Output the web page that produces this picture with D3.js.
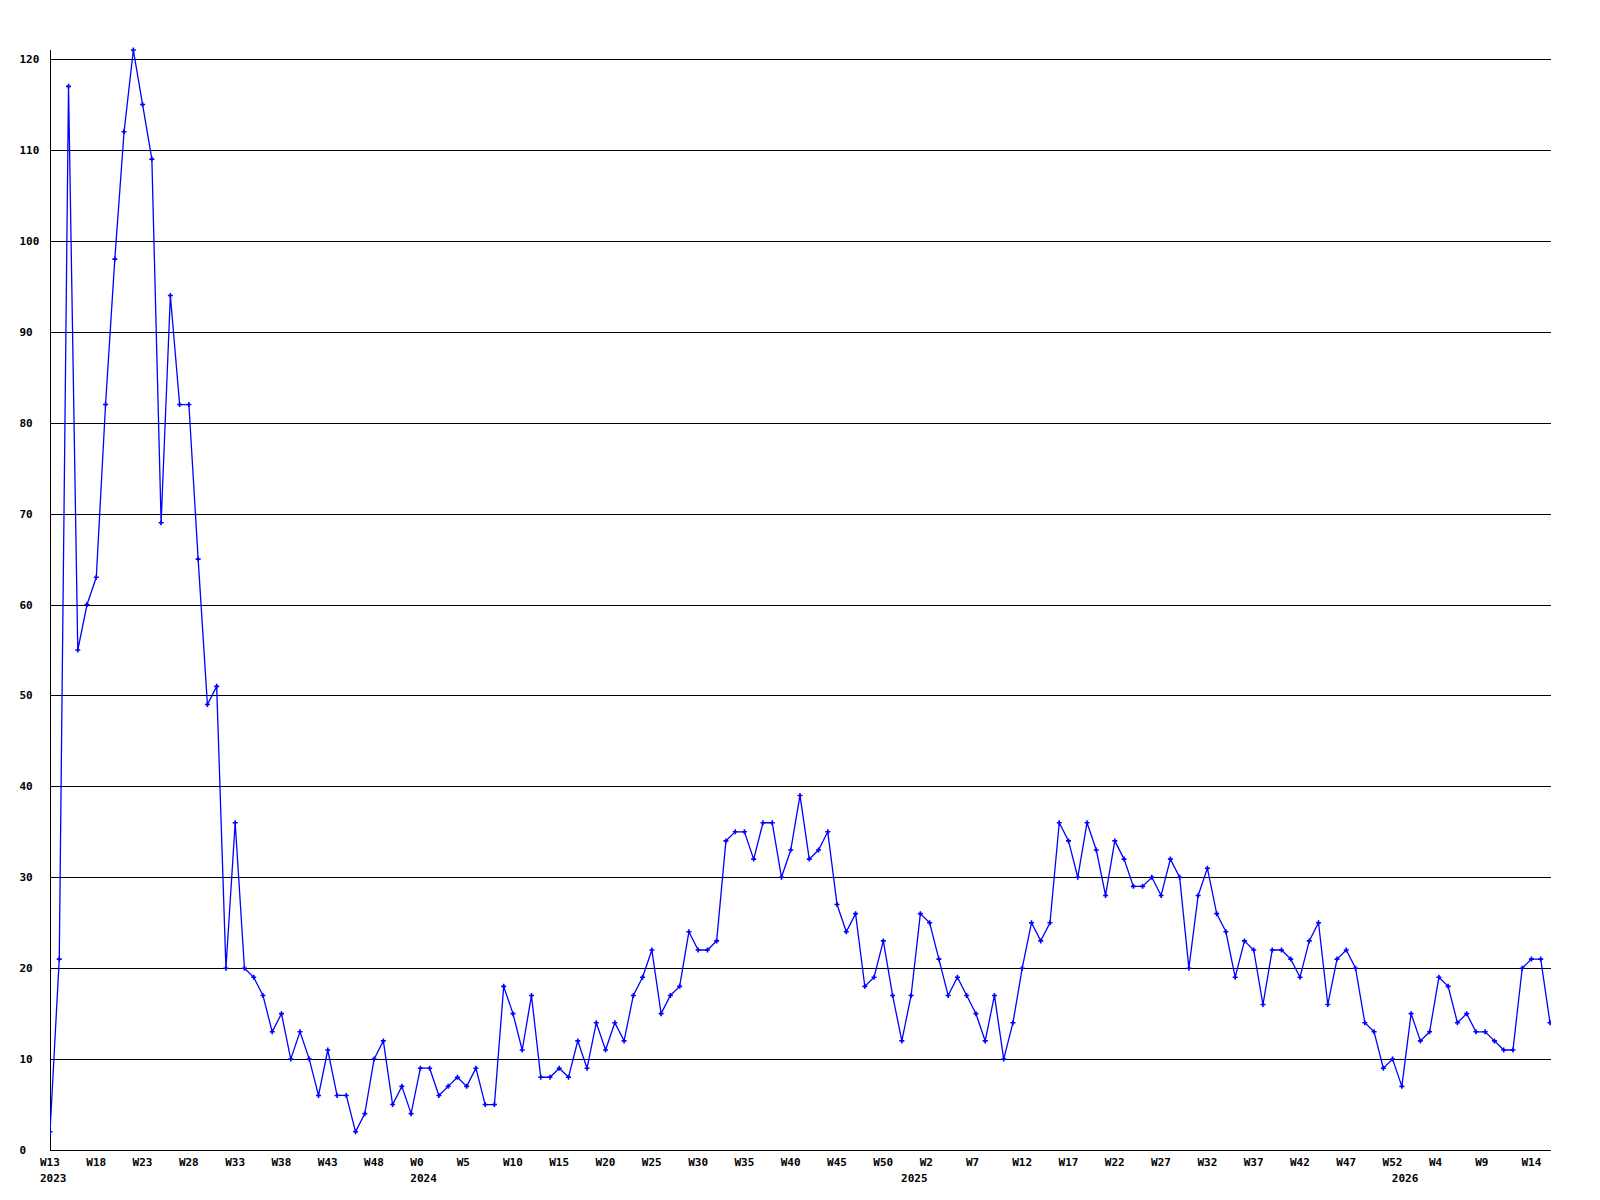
<!DOCTYPE html>
<html>
<head>
<meta charset="utf-8">
<script src="https://cdn.jsdelivr.net/npm/d3@7/dist/d3.min.js"></script>
<style>
  html, body { margin: 0; padding: 0; background: #ffffff; }
  svg { display: block; }
  text { font-family: "DejaVu Sans Mono", "Liberation Mono", monospace; font-weight: bold; font-size: 11px; fill: #000; }
</style>
</head>
<body>
<svg id="chart" width="1600" height="1200"></svg>
<script>
// Weekly counts, starting at W13 2023 (one value per week)
const values = [
  2, 21, 117, 55, 60, 63, 82, 98, 112, 121,
  115, 109, 69, 94, 82, 82, 65, 49, 51, 20,
  36, 20, 19, 17, 13, 15, 10, 13, 10, 6,
  11, 6, 6, 2, 4, 10, 12, 5, 7, 4,
  9, 9, 6, 7, 8, 7, 9, 5, 5, 18,
  15, 11, 17, 8, 8, 9, 8, 12, 9, 14,
  11, 14, 12, 17, 19, 22, 15, 17, 18, 24,
  22, 22, 23, 34, 35, 35, 32, 36, 36, 30,
  33, 39, 32, 33, 35, 27, 24, 26, 18, 19,
  23, 17, 12, 17, 26, 25, 21, 17, 19, 17,
  15, 12, 17, 10, 14, 20, 25, 23, 25, 36,
  34, 30, 36, 33, 28, 34, 32, 29, 29, 30,
  28, 32, 30, 20, 28, 31, 26, 24, 19, 23,
  22, 16, 22, 22, 21, 19, 23, 25, 16, 21,
  22, 20, 14, 13, 9, 10, 7, 15, 12, 13,
  19, 18, 14, 15, 13, 13, 12, 11, 11, 20,
  21, 21, 14
];

// Week tick labels, one every 5 weeks starting at the first week
const weekTicks = [
  "W13", "W18", "W23", "W28", "W33", "W38", "W43", "W48",
  "W0", "W5", "W10", "W15", "W20", "W25", "W30", "W35", "W40", "W45", "W50",
  "W2", "W7", "W12", "W17", "W22", "W27", "W32", "W37", "W42", "W47", "W52",
  "W4", "W9", "W14"
];
const weekTickStep = 5;

// Year labels and the week index where each year starts
const yearLabels = ["2023", "2024", "2025", "2026"];
const yearStartIndex = [0, 40, 93, 146];

// Y axis tick values
const yTicks = [0, 10, 20, 30, 40, 50, 60, 70, 80, 90, 100, 110, 120];

const svg = d3.select("#chart");
const padL = 50, padR = 1551, padT = 50, padB = 1150;

const x = d3.scaleLinear().domain([0, values.length - 1]).range([padL, 1550]);
const y = d3.scaleLinear().domain([0, d3.max(values)]).range([padB, padT]);

// gridlines
svg.append("g")
  .selectAll("line")
  .data(yTicks.filter(d => d > 0))
  .join("line")
  .attr("x1", padL).attr("x2", padR)
  .attr("y1", d => Math.round(y(d)) + 0.5).attr("y2", d => Math.round(y(d)) + 0.5)
  .attr("stroke", "#000").attr("stroke-width", 1)
  .attr("shape-rendering", "crispEdges");

// axes lines
svg.append("line")
  .attr("x1", padL + 0.5).attr("x2", padL + 0.5)
  .attr("y1", padT).attr("y2", padB + 0.5)
  .attr("stroke", "#000").attr("stroke-width", 1).attr("shape-rendering", "crispEdges");
svg.append("line")
  .attr("x1", padL).attr("x2", padR)
  .attr("y1", padB + 0.5).attr("y2", padB + 0.5)
  .attr("stroke", "#000").attr("stroke-width", 1).attr("shape-rendering", "crispEdges");

// y labels
svg.append("g")
  .selectAll("text")
  .data(yTicks)
  .join("text")
  .attr("x", 19.5)
  .attr("y", d => Math.round(y(d)) + 4)
  .attr("text-anchor", "start")
  .text(d => d);

// x week labels
svg.append("g")
  .selectAll("text")
  .data(weekTicks)
  .join("text")
  .attr("x", (d, i) => x(i * weekTickStep) - 10)
  .attr("y", 1166)
  .attr("text-anchor", "start")
  .text(d => d);

// year labels
svg.append("g")
  .selectAll("text")
  .data(yearLabels)
  .join("text")
  .attr("x", (d, i) => x(yearStartIndex[i]) - 10)
  .attr("y", 1182)
  .attr("text-anchor", "start")
  .text(d => d);

// clip for plot
svg.append("clipPath").attr("id", "plotclip")
  .append("rect").attr("x", padL).attr("y", 0).attr("width", padR - padL).attr("height", padB + 5);

const plot = svg.append("g").attr("clip-path", "url(#plotclip)");

plot.append("path")
  .datum(values)
  .attr("fill", "none")
  .attr("stroke", "#0000ff")
  .attr("stroke-width", 1.3)
  .attr("d", d3.line().x((d, i) => x(i)).y(d => y(d)));

// markers (small plus shapes)
plot.append("g")
  .selectAll("path")
  .data(values)
  .join("path")
  .attr("transform", (d, i) => `translate(${x(i)},${y(d)})`)
  .attr("d", "M-2.5,0H2.5M0,-2.5V2.5")
  .attr("stroke", "#0000ff")
  .attr("stroke-width", 1.6)
  .attr("fill", "none");
</script>
</body>
</html>
